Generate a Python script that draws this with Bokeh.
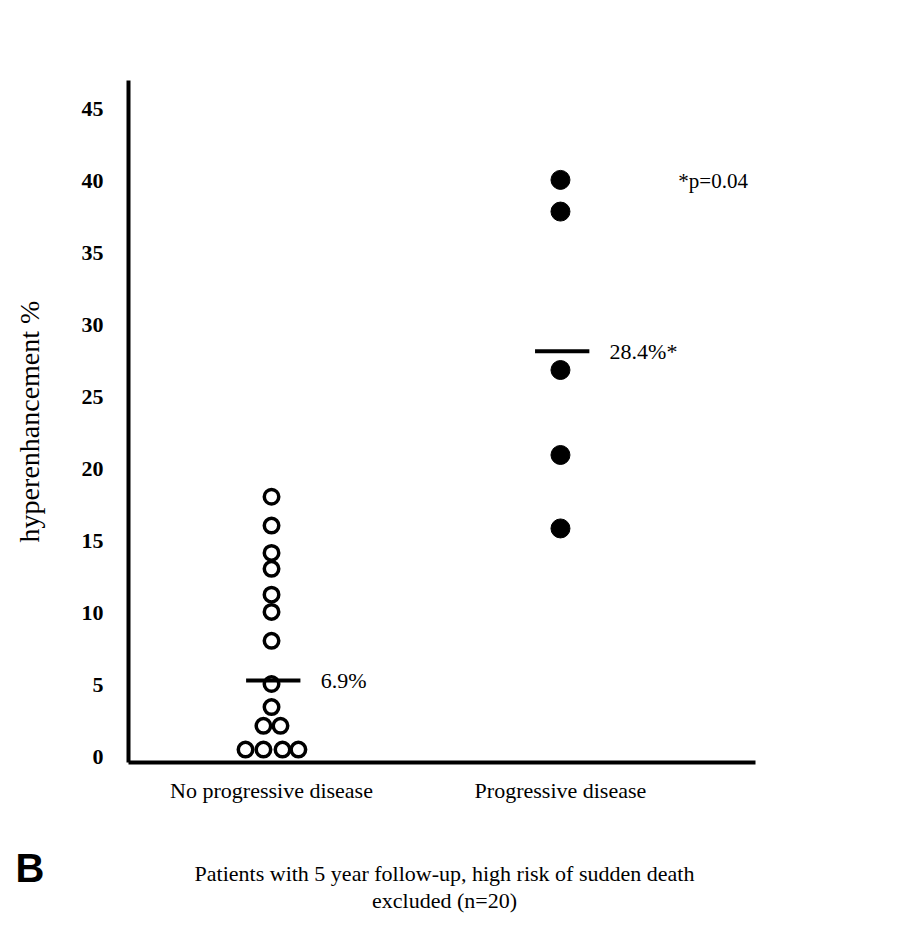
from bokeh.plotting import figure
from bokeh.layouts import column
from bokeh.models import FixedTicker, Label, ColumnDataSource
from bokeh.core.properties import value
from bokeh.embed import file_html
from bokeh.resources import INLINE

# ---- data ----
groups = ["No progressive disease", "Progressive disease"]
group_pos = [1, 2]

no_prog_values = [18.1, 16.1, 14.2, 13.1, 11.3, 10.1, 8.1, 5.1, 3.5, 2.2, 2.2, 0.55, 0.55, 0.55, 0.55]
no_prog_offset = [0, 0, 0, 0, 0, 0, 0, 0, 0, -0.028, 0.031, -0.090, -0.028, 0.038, 0.093]

prog_values = [40.1, 37.9, 26.9, 21.0, 15.9]
prog_offset = [0, 0, 0, 0, 0]

mean_values = [5.35, 28.2]
mean_labels = ["6.9%", "28.4%*"]

y_ticks = [0, 5, 10, 15, 20, 25, 30, 35, 40, 45]
y_label = "hyperenhancement %"
p_note = "*p=0.04"
caption_lines = ["Patients with 5 year follow-up, high risk of sudden death", "excluded (n=20)"]
panel_letter = "B"

SERIF = "Liberation Serif"
W = 894
BL, BR = 128, 139  # left / right borders shared by both panels

p = figure(width=W, height=830, output_backend="svg", toolbar_location=None,
           x_range=(0.505, 2.675), y_range=(-0.35, 47.0),
           min_border_left=BL, min_border_right=BR, min_border_top=80, min_border_bottom=68)
p.outline_line_color = None
p.xgrid.visible = False
p.ygrid.visible = False
p.background_fill_color = "white"
p.border_fill_color = "white"

for ax in (p.xaxis[0], p.yaxis[0]):
    ax.axis_line_width = 4
    ax.axis_line_color = "black"
    ax.major_tick_line_color = None
    ax.minor_tick_line_color = None
    ax.major_tick_out = 0
    ax.major_tick_in = 0
    ax.major_label_text_font = SERIF
    ax.major_label_text_color = "black"

p.yaxis.ticker = FixedTicker(ticks=y_ticks)
p.yaxis.major_label_text_font_size = "22px"
p.yaxis.major_label_text_font_style = "bold"
p.yaxis.major_label_standoff = 25
p.yaxis.axis_label = y_label
p.yaxis.axis_label_text_font = SERIF
p.yaxis.axis_label_text_font_size = "28px"
p.yaxis.axis_label_text_font_style = "normal"
p.yaxis.axis_label_text_color = "black"
p.yaxis.axis_label_standoff = 34

p.xaxis.ticker = FixedTicker(ticks=group_pos)
p.xaxis.major_label_overrides = {pos: g for pos, g in zip(group_pos, groups)}
p.xaxis.major_label_text_font_size = "22px"
p.xaxis.major_label_standoff = 15

no_src = ColumnDataSource(dict(x=[group_pos[0] + o for o in no_prog_offset], y=no_prog_values))
pr_src = ColumnDataSource(dict(x=[group_pos[1] + o for o in prog_offset], y=prog_values))
p.scatter("x", "y", source=no_src, size=14.5, fill_color="white", line_color="black", line_width=3.5)
p.scatter("x", "y", source=pr_src, size=19, fill_color="black", line_color="black")

p.segment(x0=[g - 0.088 for g in group_pos], x1=[g + 0.1 for g in group_pos],
          y0=mean_values, y1=mean_values, line_color="black", line_width=4)
lab_src = ColumnDataSource(dict(x=[g + 0.17 for g in group_pos], y=mean_values, t=mean_labels))
p.text("x", "y", text="t", source=lab_src, text_font=value(SERIF), text_font_size="22px",
       text_baseline="middle", text_align="left", text_color="black")

p.add_layout(Label(x=2.408, y=40.0, text=p_note, text_font=SERIF, text_font_size="21px",
                   text_baseline="middle", text_align="left", text_color="black"))

# caption panel: frame spans the same columns as the plot; coordinates are pixels
CH = 106
c = figure(width=W, height=CH, output_backend="svg", toolbar_location=None,
           x_range=(BL, W - BR), y_range=(CH, 0), x_axis_location=None,
           min_border_left=BL, min_border_right=BR, min_border_top=0, min_border_bottom=0)
c.outline_line_color = None
c.xgrid.visible = False
c.ygrid.visible = False
c.text(x=[444, 444], y=[43, 70], text=caption_lines, text_font=value(SERIF), text_font_size="22px",
       text_baseline="middle", text_align="center", text_color="black")
# panel letter drawn as the single tick label of the caption panel's left axis
c.yaxis.ticker = FixedTicker(ticks=[37])
c.yaxis.major_label_overrides = {37: panel_letter}
c.yaxis.axis_line_color = None
c.yaxis.major_tick_line_color = None
c.yaxis.minor_tick_line_color = None
c.yaxis.major_tick_out = 0
c.yaxis.major_tick_in = 0
c.yaxis.major_label_text_font = "Liberation Sans"
c.yaxis.major_label_text_font_size = "40px"
c.yaxis.major_label_text_font_style = "bold"
c.yaxis.major_label_text_color = "black"
c.yaxis.major_label_standoff = 84

layout = column(p, c, spacing=0)
open("out.html", "w").write(file_html(layout, INLINE))
